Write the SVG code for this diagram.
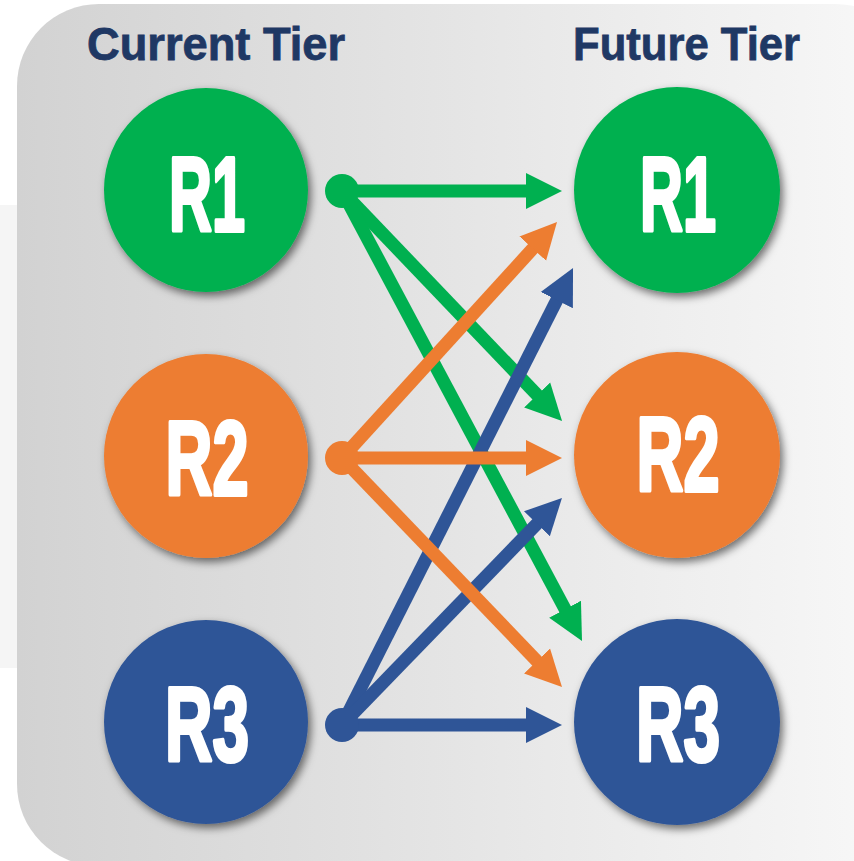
<svg xmlns="http://www.w3.org/2000/svg" width="854" height="861" viewBox="0 0 854 861">
<defs>
<linearGradient id="bg" x1="0" y1="0" x2="1" y2="0">
<stop offset="0" stop-color="#d2d2d2"/>
<stop offset="1" stop-color="#f9f9f9"/>
</linearGradient>
<filter id="sh" x="-20%" y="-20%" width="140%" height="140%">
<feDropShadow dx="3" dy="4" stdDeviation="4" flood-color="#000" flood-opacity="0.55"/>
</filter>
<marker id="ag" markerUnits="userSpaceOnUse" markerWidth="40" markerHeight="40" viewBox="0 -20 40 40" refX="6" refY="0" orient="auto"><path d="M0,-18 L36,0 L0,18 Z" fill="#00b050"/></marker>
<marker id="ao" markerUnits="userSpaceOnUse" markerWidth="40" markerHeight="40" viewBox="0 -20 40 40" refX="6" refY="0" orient="auto"><path d="M0,-18 L36,0 L0,18 Z" fill="#ed7d31"/></marker>
<marker id="ab" markerUnits="userSpaceOnUse" markerWidth="40" markerHeight="40" viewBox="0 -20 40 40" refX="6" refY="0" orient="auto"><path d="M0,-18 L36,0 L0,18 Z" fill="#2f5597"/></marker>
</defs>
<style>
.title{font-family:"Liberation Sans",Arial,sans-serif;font-weight:bold;font-size:46px;fill:#1f3864;stroke:#1f3864;stroke-width:0.8}
.lbl{font-family:"Liberation Sans",Arial,sans-serif;font-weight:bold;font-size:106px;fill:#fff;stroke:#fff;stroke-width:4;stroke-linejoin:round;text-anchor:middle}
.g{fill:#00b050}.o{fill:#ed7d31}.b{fill:#2f5597}
.ln{stroke-width:13;fill:none}
.lg{stroke:#00b050}.lo{stroke:#ed7d31}.lb{stroke:#2f5597}
</style>
<rect x="0" y="0" width="854" height="861" fill="#fff"/>
<rect x="0" y="205" width="20" height="463" fill="#f5f5f5"/>
<rect x="17" y="4" width="900" height="862" rx="82" ry="82" fill="url(#bg)"/>
<text class="title" x="87" y="60" textLength="258" lengthAdjust="spacingAndGlyphs">Current Tier</text>
<text class="title" x="573" y="60" textLength="227" lengthAdjust="spacingAndGlyphs">Future Tier</text>
<g id="cur-r1"><circle cx="206" cy="190" r="102" class="g" filter="url(#sh)"/><text class="lbl" x="207" y="231" textLength="76" lengthAdjust="spacingAndGlyphs">R1</text></g>
<g id="cur-r2"><circle cx="206" cy="456" r="102" class="o" filter="url(#sh)"/><text class="lbl" x="207" y="495" textLength="83" lengthAdjust="spacingAndGlyphs">R2</text></g>
<g id="cur-r3"><circle cx="206" cy="722" r="102" class="b" filter="url(#sh)"/><text class="lbl" x="207" y="761" textLength="84" lengthAdjust="spacingAndGlyphs">R3</text></g>
<g id="fut-r1"><circle cx="677" cy="190" r="103" class="g" filter="url(#sh)"/><text class="lbl" x="678" y="231" textLength="76" lengthAdjust="spacingAndGlyphs">R1</text></g>
<g id="fut-r2"><circle cx="677" cy="455" r="103" class="o" filter="url(#sh)"/><text class="lbl" x="678" y="491" textLength="83" lengthAdjust="spacingAndGlyphs">R2</text></g>
<g id="fut-r3"><circle cx="677" cy="722" r="103" class="b" filter="url(#sh)"/><text class="lbl" x="678" y="761" textLength="84" lengthAdjust="spacingAndGlyphs">R3</text></g>
<g id="connectors">
<line class="ln lg" x1="342" y1="191" x2="532" y2="191" marker-end="url(#ag)"/>
<line class="ln lg" x1="342" y1="191" x2="541.3" y2="399.3" marker-end="url(#ag)"/>
<line class="ln lg" x1="342" y1="191" x2="567.9" y2="614.5" marker-end="url(#ag)"/>
<circle cx="342" cy="191" r="17" class="g"/>
<line class="ln lb" x1="342" y1="725" x2="559.5" y2="294.8" marker-end="url(#ab)"/>
<line class="ln lb" x1="342" y1="725" x2="541.1" y2="519.5" marker-end="url(#ab)"/>
<line class="ln lb" x1="342" y1="725" x2="532" y2="725" marker-end="url(#ab)"/>
<circle cx="342" cy="725" r="17" class="b"/>
<line class="ln lo" x1="342" y1="458" x2="536.8" y2="244.2" marker-end="url(#ao)"/>
<line class="ln lo" x1="342" y1="458" x2="532" y2="458" marker-end="url(#ao)"/>
<line class="ln lo" x1="342" y1="458" x2="541.2" y2="665.4" marker-end="url(#ao)"/>
<circle cx="342" cy="458" r="17" class="o"/>
</g>
</svg>
